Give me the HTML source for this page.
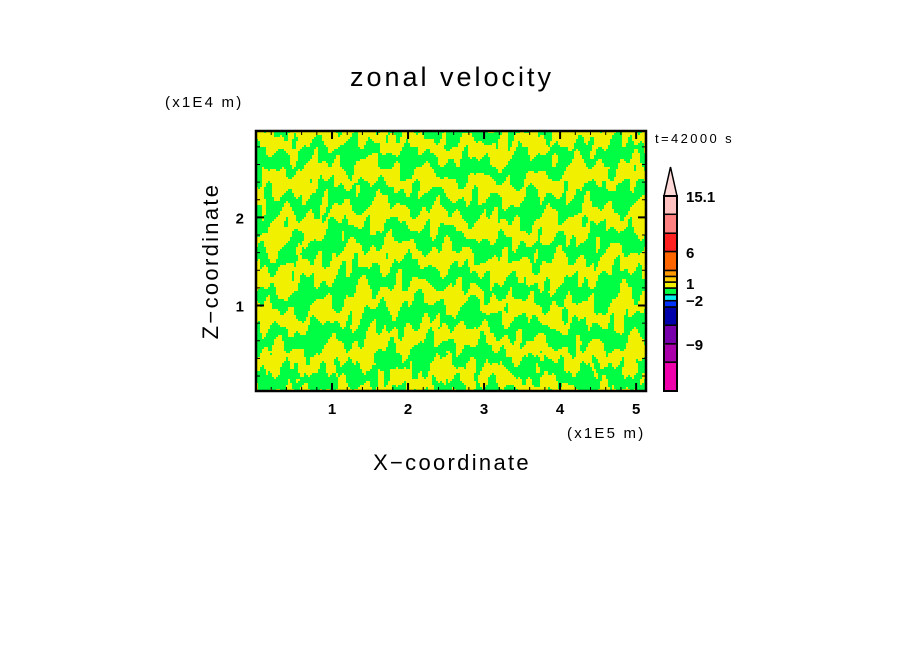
<!DOCTYPE html>
<html><head><meta charset="utf-8">
<style>
html,body{margin:0;padding:0;background:#fff;}
#wrap{position:relative;width:904px;height:654px;overflow:hidden;background:#fff;font-family:"Liberation Sans","DejaVu Sans",sans-serif;}
svg{position:absolute;left:0;top:0;}
text{font-family:"Liberation Sans","DejaVu Sans",sans-serif;fill:#000;}
</style></head>
<body>
<div id="wrap">
<svg id="svg" width="904" height="654" viewBox="0 0 904 654">
  <text x="452" y="86" font-size="27" text-anchor="middle" style="letter-spacing:3px">zonal velocity</text>
  <text x="165" y="107" font-size="15" style="letter-spacing:2.2px">(x1E4 m)</text>
  <text x="567" y="438" font-size="15" style="letter-spacing:2.2px">(x1E5 m)</text>
  <text x="452" y="470" font-size="22" text-anchor="middle" style="letter-spacing:2.3px">X−coordinate</text>
  <text x="0" y="0" font-size="22" text-anchor="middle" transform="translate(218,261) rotate(-90)" style="letter-spacing:2.3px">Z−coordinate</text>
  <text x="655" y="143" font-size="13" style="letter-spacing:2.4px">t=42000 s</text>
  <g id="field"></g>
  <g id="axes"></g>
  <g id="cbar"></g>
</svg>
</div>
<script>
// ---- data ----
const xTicks = [1, 2, 3, 4, 5];
const zTicks = [1, 2];
const xRange = [0.0, 5.13];
const zRange = [0.03, 2.98];
const cbarColors = ["#ee00aa","#aa00aa","#7700aa","#0000aa","#0033ff","#00eeee","#00ff44","#f0f000","#ffcc00","#ff9900","#ff6600","#ff2020","#ff8080","#ffc0c0"];
const cbarWeights = [87,55,56,55,19,18,20,18,17,18,57,55,57,55];
const cbarLabels = ["15.1","6","1","−2","−9"];
const cbarLabelY = [197,253,284,301,345];
const fieldColors = ["#00ff44","#f0f000"];

const NS="http://www.w3.org/2000/svg";
const L=256,R=646,T=131,B=391;
const sx=v=>L+(v-xRange[0])/(xRange[1]-xRange[0])*(R-L);
const sz=v=>B-(v-zRange[0])/(zRange[1]-zRange[0])*(B-T);

// field
const field=document.getElementById('field');
const cw=2,ch=2;
let html='';
function f(px,py){
  const x=(px-L)/(R-L), y=(B-py)/(B-T);
  let ph=y*6.5+0.25*Math.sin(x*9+y*3)+0.7*Math.abs(x-0.55)*(1-y)
    +0.15*Math.sin(x*47+y*11)+0.12*Math.sin(x*83-y*29)+0.1*Math.sin(x*131+y*17)+0.08*Math.sin(x*197-y*41);
  let v=Math.sin(2*Math.PI*ph);
  v+=0.45*Math.sin(x*61+y*23)*Math.cos(y*37-x*13);
  v+=0.3*Math.sin(x*157+y*9)*Math.sin(y*19+x*7);
  v+=0.25*Math.sin(x*241-y*13+Math.sin(y*31));
  if(y<0.15) v+=0.5*Math.sin(x*260+y*70)*Math.cos(x*90);
  return v;
}
for(let py=T;py<B;py+=ch){
  let run=null,start=L;
  for(let px=L;px<=R;px+=cw){
    const c = px<R ? (f(px+1,py+1)>0?1:0) : -1;
    if(c!==run){
      if(run!==null) html+=`<rect x="${start}" y="${py}" width="${px-start}" height="${ch}" fill="${fieldColors[run]}"/>`;
      run=c;start=px;
    }
  }
}
field.innerHTML=html;

// axes
const ax=document.getElementById('axes');
let a=`<rect x="${L}" y="${T}" width="${R-L}" height="${B-T}" fill="none" stroke="#000" stroke-width="2.5"/>`;
for(let v=0.2;v<xRange[1];v+=0.2){const x=sx(v);const maj=Math.abs(v-Math.round(v))<0.01;const len=maj?8:4;
 a+=`<line x1="${x}" y1="${B}" x2="${x}" y2="${B-len}" stroke="#000" stroke-width="${maj?2:1}"/><line x1="${x}" y1="${T}" x2="${x}" y2="${T+len}" stroke="#000" stroke-width="${maj?2:1}"/>`;}
for(let v=0.2;v<zRange[1];v+=0.2){const y=sz(v);const maj=Math.abs(v-Math.round(v))<0.01;const len=maj?8:4;
 a+=`<line x1="${L}" y1="${y}" x2="${L+len}" y2="${y}" stroke="#000" stroke-width="${maj?2:1}"/><line x1="${R}" y1="${y}" x2="${R-len}" y2="${y}" stroke="#000" stroke-width="${maj?2:1}"/>`;}
ax.innerHTML=a;
xTicks.forEach(t=>{const e=document.createElementNS(NS,'text');e.setAttribute('x',sx(t));e.setAttribute('y',414);e.setAttribute('font-size','15');e.setAttribute('font-weight','bold');e.setAttribute('text-anchor','middle');e.textContent=t;


ax.appendChild(e);});
zTicks.forEach(t=>{const e=document.createElementNS(NS,'text');e.setAttribute('x',244);e.setAttribute('y',sz(t)+6);e.setAttribute('font-size','15');e.setAttribute('font-weight','bold');e.setAttribute('text-anchor','end');e.textContent=t;


ax.appendChild(e);});

// colorbar
const cb=document.getElementById('cbar');
const cx=664,cwid=13,ctop=196,cbot=391;
const tot=cbarWeights.reduce((s,v)=>s+v,0);
let y=cbot,c='';
cbarColors.forEach((col,i)=>{const h=cbarWeights[i]/tot*(cbot-ctop);y-=h;
 c+=`<rect x="${cx}" y="${y}" width="${cwid}" height="${h}" fill="${col}" stroke="#000" stroke-width="1.5"/>`;});
c+=`<polygon points="${cx},${ctop} ${cx+cwid},${ctop} ${cx+cwid/2},167" fill="#ffd8d8" stroke="#000" stroke-width="1.5"/>`;
c+=`<rect x="${cx}" y="${ctop}" width="${cwid}" height="${cbot-ctop}" fill="none" stroke="#000" stroke-width="2"/>`;
cb.innerHTML=c;
cbarLabels.forEach((l,i)=>{const e=document.createElementNS(NS,'text');e.setAttribute('x',686);e.setAttribute('y',cbarLabelY[i]+5);e.setAttribute('font-size','15');e.setAttribute('font-weight','bold');e.textContent=l;


cb.appendChild(e);});
</script>
</body></html>
